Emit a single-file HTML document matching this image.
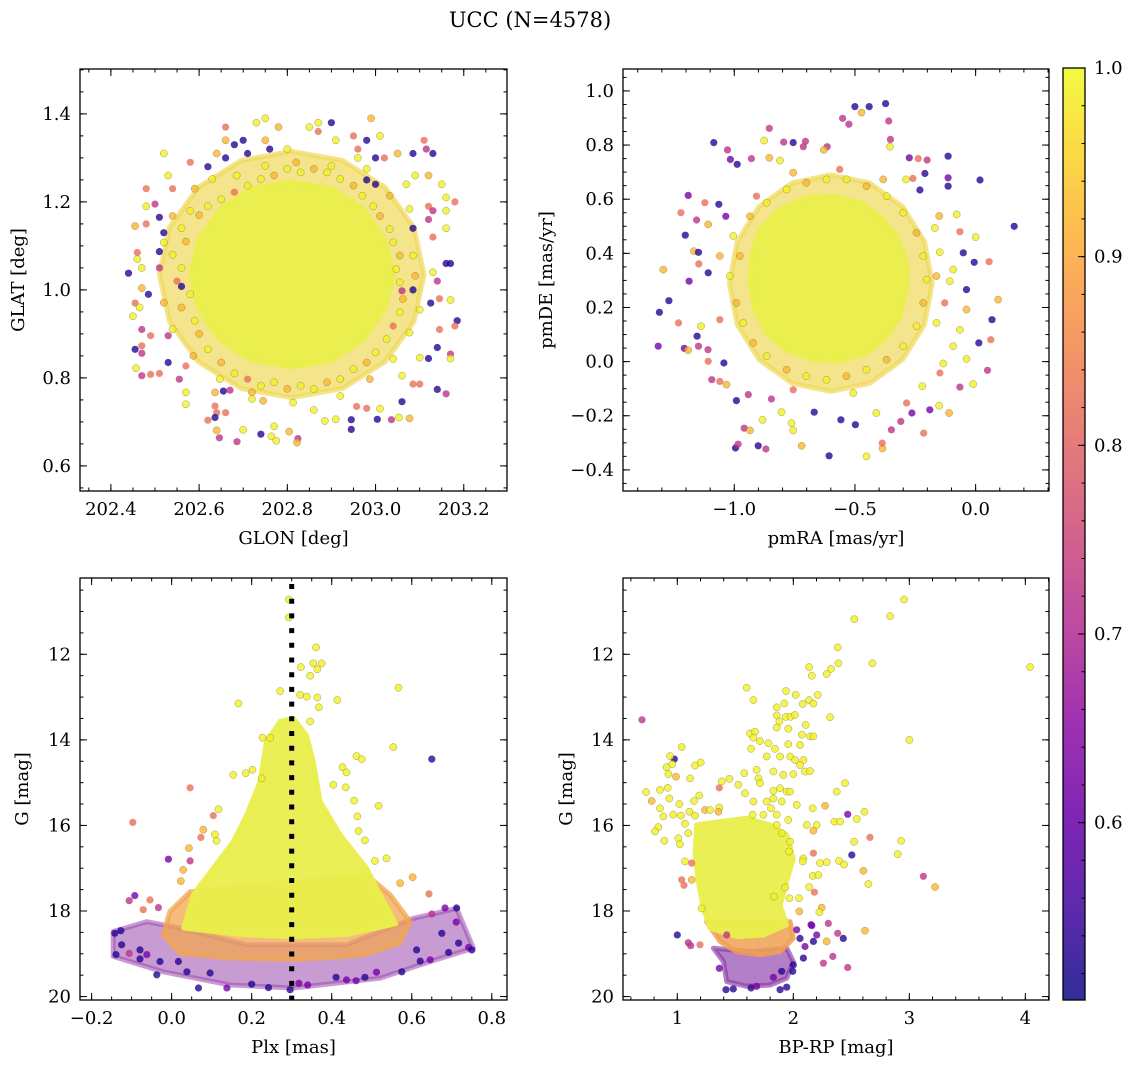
<!DOCTYPE html>
<html><head><meta charset="utf-8"><style>
html,body{margin:0;padding:0;background:#fff;}
svg{display:block;font-family:"DejaVu Serif","Liberation Serif",serif;}
</style></head><body>
<svg id="fig" width="1136" height="1068" viewBox="0 0 1136 1068" xmlns="http://www.w3.org/2000/svg">
<rect width="1136" height="1068" fill="#fff"/>
<text x="530" y="27" font-size="21" text-anchor="middle">UCC (N=4578)</text>
</svg>
<script>
// ---------- Panel 1: GLON / GLAT ----------
const p1x=[202.75,202.73,202.66,202.99,202.87,202.90,202.78,202.85,202.87,202.95,203.01,203.11,202.70,202.66,202.75,202.68,202.76,202.80,202.98,202.96,202.91,202.52,203.085,203.115,203.13,203.05,203.02,203.00,202.96,202.71,202.66,202.64,202.58,202.62,202.53,202.48,202.54,203.15,203.12,203.09,203.07,203.0,202.98,203.16,203.18,202.50,202.48,202.51,202.52,203.16,203.12,203.13,203.12,203.16,202.455,202.48,203.085,203.13,202.46,202.51,202.46,202.47,202.44,203.13,203.16,203.17,203.14,202.51,202.47,202.485,202.56,203.06,203.085,203.17,203.125,203.145,202.455,202.465,203.10,203.185,203.18,203.145,202.45,202.47,202.49,202.53,202.47,202.455,203.14,203.17,203.17,203.12,203.10,202.47,202.457,202.47,202.49,202.51,202.53,202.57,202.555,202.57,202.57,203.14,203.16,203.085,203.10,203.06,202.636,202.655,202.67,202.72,202.745,202.636,202.64,202.66,202.62,202.636,202.64,202.646,202.686,202.70,202.74,202.764,202.77,202.804,202.824,202.822,202.86,202.885,202.91,202.945,202.945,202.957,202.98,203.01,203.004,203.036,203.053,203.077,203.06,202.775,
202.58,202.60,202.56,202.57,202.54,202.56,202.55,202.58,202.56,202.59,202.60,202.62,202.65,202.68,202.71,202.74,202.77,202.80,202.83,202.86,202.89,202.92,202.95,202.98,203.0,203.025,203.04,203.055,203.062,203.055,203.047,203.055,203.04,203.032,203.01,202.995,202.97,202.95,202.92,202.89,202.86,202.83,202.80,202.77,202.74,202.71,202.68,202.65,202.62,202.59,202.63,202.685,202.75,202.82,202.90,202.98,203.032,203.077,203.085,203.09,203.077,203.04,202.987,202.92,202.813,202.72,202.647,202.587,202.54,202.52,202.52,202.54];
const p1y=[1.39,1.38,1.37,1.39,1.38,1.38,1.37,1.37,1.36,1.35,1.35,1.34,1.34,1.34,1.34,1.33,1.32,1.32,1.34,1.32,1.34,1.31,1.31,1.32,1.31,1.31,1.30,1.30,1.30,1.31,1.30,1.31,1.29,1.28,1.26,1.23,1.23,1.24,1.26,1.26,1.24,1.24,1.25,1.21,1.20,1.195,1.19,1.165,1.13,1.18,1.19,1.18,1.16,1.14,1.145,1.15,1.14,1.12,1.085,1.087,1.07,1.05,1.038,1.04,1.06,1.06,1.02,1.05,1.004,0.99,1.008,0.998,1.0,0.977,0.97,0.98,0.97,0.96,0.955,0.93,0.918,0.91,0.94,0.91,0.896,0.896,0.873,0.865,0.869,0.854,0.844,0.844,0.846,0.856,0.822,0.805,0.808,0.81,0.835,0.827,0.797,0.767,0.74,0.774,0.764,0.786,0.786,0.805,0.767,0.77,0.772,0.752,0.748,0.736,0.721,0.721,0.704,0.71,0.681,0.664,0.655,0.682,0.672,0.667,0.69,0.678,0.662,0.653,0.727,0.702,0.706,0.683,0.705,0.735,0.731,0.73,0.706,0.705,0.71,0.708,0.746,0.657,
1.18,1.17,1.14,1.11,1.08,1.05,1.02,0.99,0.96,0.93,0.90,0.865,0.835,0.81,0.797,0.782,0.79,0.775,0.782,0.775,0.79,0.797,0.82,0.835,0.858,0.888,0.918,0.949,0.979,1.017,1.047,1.078,1.108,1.138,1.168,1.19,1.214,1.237,1.252,1.267,1.275,1.267,1.275,1.26,1.252,1.237,1.222,1.206,1.19,1.23,1.252,1.26,1.282,1.29,1.282,1.275,1.214,1.184,1.078,1.032,0.903,0.843,0.797,0.759,0.744,0.767,0.797,0.85,0.911,0.971,1.108,1.168];
const p1p=[.99,.99,.82,.92,.99,.53,.92,.99,.82,.82,.99,.82,.53,.92,.92,.53,.53,.99,.53,.82,.99,.99,.53,.72,.53,.92,.82,.53,.99,.53,.53,.92,.82,.53,.99,.82,.82,.99,.92,.99,.99,.53,.53,.99,.82,.72,.99,.53,.53,.99,.82,.72,.72,.99,.92,.82,.53,.82,.82,.53,.99,.99,.53,.99,.53,.53,.72,.72,.92,.53,.53,.72,.53,.99,.53,.82,.82,.99,.99,.53,.82,.82,.99,.72,.82,.72,.82,.53,.53,.72,.99,.53,.99,.72,.99,.72,.82,.82,.53,.82,.72,.99,.99,.53,.72,.82,.82,.99,.92,.53,.72,.99,.92,.82,.82,.82,.82,.53,.92,.72,.72,.99,.53,.99,.99,.92,.72,.92,.99,.99,.99,.53,.53,.82,.82,.99,.53,.72,.99,.92,.53,.99,
.99,.92,.99,.92,.99,.99,.82,.99,.92,.99,.92,.99,.92,.99,.82,.99,.99,.92,.99,.99,.92,.99,.99,.92,.99,.99,.82,.99,.92,.99,.99,.92,.99,.99,.92,.99,.99,.92,.99,.99,.92,.99,.99,.92,.99,.99,.82,.99,.99,.92,.99,.99,.99,.92,.99,.99,.92,.99,.99,.92,.99,.99,.92,.99,.99,.92,.99,.92,.99,.92,.99,.92];
const p1CoreX=[203.04,203.02,202.97,202.90,202.81,202.72,202.65,202.60,202.58,202.60,202.65,202.72,202.81,202.90,202.97,203.02];
const p1CoreY=[1.035,1.115,1.185,1.23,1.245,1.23,1.185,1.115,1.035,0.955,0.885,0.84,0.825,0.84,0.885,0.955];
const p1HaloX=[203.11,203.087,203.022,202.925,202.81,202.695,202.598,202.533,202.51,202.533,202.598,202.695,202.81,202.925,203.022,203.087];
const p1HaloY=[1.035,1.142,1.233,1.294,1.315,1.294,1.233,1.142,1.035,0.928,0.837,0.776,0.755,0.776,0.837,0.928];
const p1XTicks=[202.4,202.6,202.8,203.0,203.2];
const p1YTicks=[0.6,0.8,1.0,1.2,1.4];

// ---------- Panel 2: pmRA / pmDE ----------
const p2x=[-0.500,-0.441,-0.373,-0.473,-0.551,-0.525,-0.360,-0.855,-1.085,-0.876,-0.795,-0.756,-0.705,-0.615,-0.629,-0.714,-0.353,-0.355,-1.028,-1.016,-0.929,-0.988,-0.855,-0.811,-0.275,-0.238,-0.201,-0.114,0.018,-0.114,-0.114,-0.210,-0.260,-0.289,-0.231,-1.191,-1.221,-1.122,-1.064,-1.035,-1.156,-1.108,-1.203,-1.167,-1.148,-1.294,-1.147,-1.187,-1.108,-1.271,-1.310,-1.231,-1.138,-1.315,-1.207,-1.191,-1.148,-1.109,-1.154,-1.108,-1.043,-1.093,-1.060,-1.032,-0.991,-0.942,-0.995,-0.984,-0.901,-0.869,-0.959,-0.935,-0.883,-0.846,-0.804,-0.763,-0.756,-0.721,-0.669,-0.607,-0.452,-0.386,-0.387,-0.558,-0.498,-0.411,-0.349,-0.310,-0.286,-0.215,-0.264,-0.190,-0.151,-0.110,-0.065,-0.010,0.049,0.063,-0.038,-0.093,0.013,0.093,0.056,0.068,0.160,0.000,-0.079,-0.065,-0.151,-0.169,-0.149,-0.051,-0.006,-0.093,-0.038,-0.107,-0.128,-0.038,-0.065,-0.134,-0.148,-0.221,
-1.004,-0.977,-1.018,-0.991,-0.963,-0.922,-0.866,-0.783,-0.701,-0.618,-0.535,-0.452,-0.369,-0.300,-0.245,-0.217,-0.203,-0.217,-0.245,-0.300,-0.369,-0.452,-0.535,-0.618,-0.701,-0.783,-0.866,-0.935,-0.908,-0.756,-0.563,-0.383,-0.162,-0.162,-0.507,-0.756,-1.060,-1.060];
const p2y=[0.942,0.942,0.953,0.920,0.899,0.877,0.889,0.862,0.809,0.817,0.811,0.809,0.814,0.794,0.782,0.794,0.821,0.794,0.782,0.747,0.750,0.729,0.753,0.743,0.753,0.750,0.745,0.759,0.671,0.679,0.648,0.695,0.677,0.673,0.634,0.614,0.550,0.587,0.581,0.537,0.523,0.507,0.467,0.408,0.404,0.340,0.361,0.297,0.328,0.225,0.182,0.143,0.131,0.057,0.049,0.042,0.057,0.044,0.094,0.001,-0.005,-0.067,-0.073,-0.085,-0.144,-0.122,-0.319,-0.305,-0.311,-0.323,-0.246,-0.254,-0.215,-0.138,-0.187,-0.227,-0.254,-0.311,-0.187,-0.348,-0.350,-0.321,-0.301,-0.215,-0.233,-0.190,-0.252,-0.221,-0.153,-0.264,-0.190,-0.178,-0.163,-0.190,-0.094,-0.083,-0.032,0.081,0.010,0.057,0.069,0.229,0.369,0.155,0.500,0.460,0.544,0.480,0.538,0.494,0.404,0.402,0.367,0.340,0.266,0.297,0.217,0.192,0.118,-0.007,-0.042,-0.091,
0.464,0.390,0.316,0.217,0.143,0.069,0.020,-0.030,-0.054,-0.067,-0.054,-0.030,0.007,0.057,0.131,0.217,0.303,0.390,0.476,0.550,0.611,0.648,0.673,0.673,0.661,0.636,0.587,0.537,0.611,0.698,0.710,0.673,0.316,0.143,-0.116,-0.104,0.155,0.390];
const p2p=[.53,.53,.53,.92,.72,.72,.72,.72,.53,.99,.72,.53,.72,.72,.92,.72,.72,.99,.72,.62,.72,.53,.92,.99,.62,.82,.72,.53,.53,.62,.53,.53,.82,.99,.53,.62,.82,.82,.53,.62,.72,.92,.53,.92,.53,.92,.82,.62,.53,.53,.53,.82,.99,.62,.62,.92,.72,.72,.53,.82,.53,.72,.82,.92,.53,.72,.53,.72,.53,.72,.72,.92,.99,.72,.99,.99,.99,.92,.53,.53,.99,.92,.82,.53,.53,.99,.72,.72,.82,.82,.62,.62,.99,.92,.72,.99,.72,.82,.99,.99,.53,.92,.82,.53,.53,.99,.99,.82,.92,.99,.99,.53,.53,.99,.53,.99,.82,.92,.99,.99,.82,.99,
.99,.92,.99,.92,.99,.92,.99,.92,.99,.99,.92,.99,.92,.99,.99,.92,.99,.99,.92,.99,.99,.92,.99,.99,.92,.99,.99,.92,.82,.92,.82,.92,.92,.99,.99,.82,.82,.92];
const p2CoreX=[-0.894,-0.811,-0.701,-0.590,-0.480,-0.397,-0.328,-0.286,-0.286,-0.314,-0.369,-0.452,-0.563,-0.673,-0.783,-0.866,-0.915,-0.935,-0.928];
const p2CoreY=[0.488,0.562,0.605,0.611,0.587,0.537,0.464,0.365,0.266,0.168,0.094,0.032,0.001,0.007,0.044,0.106,0.192,0.291,0.390];
const p2HaloX=[-0.18,-0.212,-0.303,-0.439,-0.60,-0.761,-0.897,-0.988,-1.02,-0.988,-0.897,-0.761,-0.60,-0.439,-0.303,-0.212];
const p2HaloY=[0.29,0.443,0.573,0.66,0.69,0.66,0.573,0.443,0.29,0.137,0.007,-0.08,-0.11,-0.08,0.007,0.137];
const p2XTicks=[-1.0,-0.5,0.0];
const p2YTicks=[-0.4,-0.2,0.0,0.2,0.4,0.6,0.8,1.0];

// ---------- Panel 3: Plx / G ----------
const p3x=[0.293,0.293,0.361,0.323,0.354,0.375,0.364,0.346,0.567,0.271,0.321,0.338,0.364,0.414,0.167,0.368,0.346,0.554,0.650,0.462,0.475,0.227,0.246,0.154,0.185,0.202,0.225,0.427,0.437,0.404,0.435,0.456,0.517,0.464,0.467,0.483,0.046,-0.097,0.104,0.117,0.079,0.073,0.108,0.112,-0.008,0.043,0.029,0.023,-0.092,-0.106,-0.054,-0.033,-0.071,0.046,0.537,0.508,0.602,0.571,0.643,0.683,0.712,0.650,-0.142,-0.127,-0.125,-0.139,-0.106,-0.079,-0.037,0.067,0.138,0.200,0.242,0.296,0.318,0.340,0.411,0.437,0.461,0.483,0.512,0.575,0.621,0.646,0.692,0.717,0.742,0.750,0.675,0.711,0.612,0.017,0.096,0.038,-0.079,-0.062,-0.029];
const p3y=[10.72,11.14,11.84,12.30,12.21,12.21,12.35,12.50,12.78,12.86,12.95,12.99,13.01,13.07,13.15,13.24,13.57,14.17,14.45,14.38,14.45,13.95,13.95,14.82,14.78,14.70,14.90,14.64,14.76,15.05,15.11,15.42,15.54,15.79,16.13,16.35,15.12,15.93,15.77,15.62,16.10,16.28,16.21,16.36,16.79,16.53,17.04,17.30,17.64,17.76,17.74,17.92,17.97,16.83,16.77,16.83,17.21,17.35,17.60,17.93,17.93,18.07,18.52,18.46,18.79,19.02,18.99,19.12,19.49,19.80,19.80,19.71,19.79,19.84,19.69,19.73,19.55,19.61,19.63,19.55,19.43,19.42,19.17,19.14,18.97,18.75,18.85,18.91,18.52,18.26,18.91,19.18,19.45,19.42,18.91,19.02,19.18];
const p3p=[.99,.99,.99,.99,.99,.99,.99,.99,.99,.99,.99,.99,.99,.99,.99,.99,.99,.99,.53,.99,.99,.99,.99,.99,.99,.99,.99,.99,.99,.99,.99,.99,.99,.99,.99,.99,.82,.82,.82,.99,.92,.82,.99,.99,.62,.92,.92,.92,.62,.72,.82,.72,.82,.72,.99,.99,.92,.92,.82,.62,.53,.72,.53,.53,.53,.53,.72,.53,.53,.53,.62,.53,.53,.53,.62,.62,.53,.62,.62,.53,.62,.53,.53,.62,.53,.53,.62,.53,.53,.62,.53,.53,.53,.53,.53,.62,.53];
const p3CoreX=[0.237,0.271,0.304,0.337,0.354,0.371,0.421,0.487,0.521,0.560,0.437,0.304,0.171,0.030,0.054,0.104,0.154,0.188,0.221];
const p3CoreY=[14.04,13.57,13.50,13.89,14.51,15.44,16.22,17.0,17.62,18.30,18.55,18.60,18.55,18.40,17.62,17.0,16.38,15.75,14.98];
const p3MidX=[0.046,-0.004,-0.021,0.021,0.146,0.304,0.479,0.571,0.596,0.546,0.487];
const p3MidY=[17.55,18.01,18.56,18.99,19.10,19.14,19.03,18.75,18.25,17.62,17.16];
const p3FaintX=[-0.146,-0.062,0.021,0.188,0.437,0.604,0.712,0.754,0.646,0.521,0.304,0.146,-0.021,-0.146];
const p3FaintY=[18.48,18.25,18.40,18.79,18.79,18.17,17.94,18.87,19.18,19.57,19.80,19.73,19.42,19.06];
const plxLine=[0.3];
const p3XTicks=[-0.2,0.0,0.2,0.4,0.6,0.8];
const gTicks=[12,14,16,18,20];

// ---------- Panel 4: BP-RP / G ----------
const p4x=[2.955,2.526,2.834,2.383,2.389,2.682,2.136,2.159,2.288,2.325,4.041,1.598,1.656,1.937,2.021,2.210,1.857,1.923,2.081,2.136,2.173,1.857,1.934,1.977,2.015,2.107,2.317,1.880,1.857,1.957,1.627,1.670,1.656,2.073,2.144,2.173,3.001,1.713,1.785,1.842,1.957,2.058,1.636,1.771,1.886,1.972,2.015,2.087,2.058,2.101,2.144,2.000,1.914,1.684,1.828,1.699,1.713,1.578,1.449,1.383,1.526,2.446,2.374,1.828,1.886,1.943,1.972,1.828,1.900,2.029,1.808,1.771,1.584,1.656,1.650,1.742,1.857,1.957,1.857,1.900,1.972,1.963,2.116,2.202,2.167,2.274,2.354,2.403,2.469,2.547,2.613,2.173,2.524,2.661,2.929,2.900,2.504,2.173,2.087,2.081,2.230,2.288,2.394,2.437,2.604,3.121,3.222,2.647,2.167,2.216,2.136,2.182,2.049,1.966,2.052,2.245,2.225,1.929,1.834,2.618,2.153,2.302,2.383,2.431,2.288,2.340,2.259,2.469,2.202,2.029,1.000,1.095,1.115,1.196,0.696,0.974,0.937,1.038,0.908,0.957,1.153,1.202,0.923,0.989,1.110,0.730,0.851,0.917,1.362,0.779,0.931,1.018,1.190,1.144,0.851,0.880,0.966,1.032,1.104,1.239,1.282,1.362,1.354,1.153,1.066,0.836,0.808,0.888,1.009,1.095,1.023,1.066,1.038,1.058,1.124,1.124,1.210,1.426,1.362,1.420,1.483,1.636,1.684,1.886,1.943,1.828,1.900,2.000,2.087,2.101,2.173,2.058,2.159,1.995];
const p4y=[10.72,11.18,11.11,11.84,12.21,12.21,12.30,12.50,12.46,12.34,12.30,12.78,13.07,12.86,12.95,12.95,13.24,13.15,13.16,13.07,13.15,13.43,13.46,13.46,13.42,13.65,13.47,13.57,13.71,13.74,13.85,13.81,13.95,13.88,13.92,13.92,14.00,14.03,14.08,14.21,14.10,14.12,14.21,14.39,14.39,14.39,14.47,14.47,14.59,14.74,14.73,14.80,14.82,14.70,14.74,14.90,15.01,14.78,14.91,14.97,15.05,15.01,15.21,15.19,15.13,15.21,15.21,15.37,15.44,15.52,15.60,15.44,15.25,15.44,15.75,15.75,15.75,15.87,15.99,16.18,16.38,16.61,15.99,15.99,15.60,15.54,15.91,15.91,15.74,15.85,15.68,16.12,16.38,16.28,16.36,16.67,16.69,16.65,16.77,16.84,16.88,16.86,16.83,16.91,17.06,17.19,17.44,17.37,17.18,17.16,17.44,17.56,17.70,17.70,18.01,17.92,18.03,17.45,17.66,18.46,18.32,18.29,18.52,18.64,18.71,19.06,19.22,19.32,18.56,18.44,18.56,18.74,18.81,18.79,13.53,14.45,14.38,14.17,14.64,14.57,14.60,14.53,14.80,14.86,14.90,15.22,15.17,15.12,15.12,15.43,15.37,15.50,15.30,15.43,15.60,15.79,15.75,15.77,15.68,15.64,15.64,15.58,15.68,15.77,15.96,16.04,16.14,16.36,16.30,16.18,16.44,16.84,17.27,17.40,17.27,16.88,17.94,18.56,19.34,19.84,19.82,19.80,19.76,19.84,19.78,19.55,19.41,19.26,19.10,18.83,18.71,18.64,18.34,19.41];
const p4p=[.99,.99,.99,.99,.99,.99,.99,.99,.99,.99,.99,.99,.99,.99,.99,.99,.99,.99,.99,.99,.99,.99,.99,.99,.99,.99,.99,.99,.99,.99,.99,.99,.99,.99,.99,.99,.99,.99,.99,.99,.99,.99,.99,.99,.99,.99,.99,.99,.99,.99,.99,.99,.99,.99,.99,.99,.99,.99,.99,.99,.99,.99,.99,.99,.99,.99,.99,.99,.99,.99,.99,.99,.99,.99,.99,.99,.99,.99,.99,.99,.99,.99,.99,.99,.99,.92,.99,.99,.62,.99,.99,.92,.99,.82,.99,.99,.53,.82,.99,.99,.99,.99,.99,.99,.92,.72,.92,.99,.99,.99,.99,.82,.99,.99,.92,.92,.99,.99,.99,.92,.62,.72,.72,.53,.92,.72,.72,.72,.62,.62,.53,.72,.72,.82,.72,.53,.99,.99,.99,.99,.99,.99,.99,.92,.99,.99,.99,.99,.82,.92,.99,.99,.99,.99,.99,.99,.99,.99,.99,.92,.99,.99,.92,.99,.99,.99,.99,.99,.99,.99,.99,.99,.82,.82,.92,.82,.99,.72,.62,.53,.53,.53,.62,.53,.53,.62,.53,.53,.53,.62,.53,.53,.62,.53,.62];
const p4CoreX=[1.167,1.368,1.598,1.799,1.943,2.000,1.943,1.886,1.943,1.742,1.512,1.282,1.225,1.181,1.153];
const p4CoreY=[15.99,15.91,15.83,15.99,16.22,16.77,17.31,17.86,18.32,18.56,18.60,18.40,17.94,17.31,16.69];
const p4MidX=[1.253,1.368,1.512,1.713,1.886,2.000,1.972];
const p4MidY=[18.25,18.71,18.95,19.02,18.95,18.64,18.25];
const p4FaintX=[1.311,1.397,1.426,1.598,1.799,1.943,2.000,1.943,1.656];
const p4FaintY=[18.87,19.18,19.65,19.76,19.73,19.57,19.18,18.87,18.95];
const p4XTicks=[1,2,3,4];

// ---------- Colorbar ----------
const cbTicks=[0.6,0.7,0.8,0.9,1.0];
const cbRange=[0.506,1.0];

const NS='http://www.w3.org/2000/svg';
const svg=document.getElementById('fig');
function mk(tag,attrs,parent){const e=document.createElementNS(NS,tag);for(const k in attrs)e.setAttribute(k,attrs[k]);(parent||svg).appendChild(e);return e;}
const stops=[[13,8,135],[65,4,157],[106,0,168],[143,13,164],[177,42,144],[204,71,120],[225,100,98],[242,132,75],[252,166,54],[252,206,37],[240,249,33]];
function plasma(t){t=Math.max(0,Math.min(1,t));const f=t*10,i=Math.min(9,Math.floor(f)),r=f-i;const a=stops[i],b=stops[i+1];return 'rgb('+a.map((v,k)=>Math.round(v+(b[k]-v)*r)).join(',')+')';}
function pcol(p){return plasma((p-cbRange[0])/(cbRange[1]-cbRange[0]));}
function fmt(v,d){const s=Math.abs(v).toFixed(d);return (v<-1e-9?'\u2212':'')+s;}

function panel(cfg){
  const P=cfg;
  const sx=v=>P.x0+(v-P.xd[0])/(P.xd[1]-P.xd[0])*(P.x1-P.x0);
  const sy=v=>P.y1-(v-P.yd[0])/(P.yd[1]-P.yd[0])*(P.y1-P.y0);
  const g=mk('g',{});
  
  
  const clipId='clip-'+P.name;
  const cp=mk('clipPath',{id:clipId},g);mk('rect',{x:P.x0,y:P.y0,width:P.x1-P.x0,height:P.y1-P.y0},cp);
  const plot=mk('g',{'clip-path':'url(#'+clipId+')'},g);
  
  
  (P.regions||[]).forEach(R=>{
    const pts=R.xs.map((v,i)=>sx(v).toFixed(1)+','+sy(R.ys[i]).toFixed(1)).join(' ');
    const pg=mk('polygon',{points:pts,fill:R.fill,'fill-opacity':R.op,stroke:R.fill,'stroke-width':5,'stroke-opacity':R.op,'stroke-linejoin':'round'},plot);
    
    
  });
  P.xs.forEach((v,i)=>{
    const p=P.ps[i];
    const c=mk('circle',{cx:sx(v).toFixed(1),cy:sy(P.ys[i]).toFixed(1),r:3.6,fill:pcol(p),'fill-opacity':0.8},plot);
    if(p>0.88){c.setAttribute('stroke','#7a7a3a');c.setAttribute('stroke-width','0.5');c.setAttribute('stroke-opacity','0.7');}
    
    
  });
  if(P.vline){P.vline.forEach(v=>{const l=mk('line',{x1:sx(v),x2:sx(v),y1:P.y0+6,y2:P.y1,stroke:'#000','stroke-width':5,'stroke-dasharray':'5 9.7'},plot);
    
    });}
  const fr=mk('rect',{x:P.x0,y:P.y0,width:P.x1-P.x0,height:P.y1-P.y0,fill:'none',stroke:'#000','stroke-width':1.3},g);
  
  
  const tg=mk('g',{stroke:'#000','stroke-width':1},g);
  const minorX=[],minorY=[];
  for(let k=Math.ceil(P.xd[0]/P.xmin-1e-6);k*P.xmin<=P.xd[1];k++)minorX.push(k*P.xmin);
  const ylo=Math.min(P.yd[0],P.yd[1]),yhi=Math.max(P.yd[0],P.yd[1]);
  for(let k=Math.ceil(ylo/P.ymin-1e-6);k*P.ymin<=yhi;k++)minorY.push(k*P.ymin);
  minorX.forEach(v=>{const x=sx(v);mk('line',{x1:x,x2:x,y1:P.y1,y2:P.y1-3.5},tg);mk('line',{x1:x,x2:x,y1:P.y0,y2:P.y0+3.5},tg);});
  minorY.forEach(v=>{const y=sy(v);mk('line',{x1:P.x0,x2:P.x0+3.5,y1:y,y2:y},tg);mk('line',{x1:P.x1,x2:P.x1-3.5,y1:y,y2:y},tg);});
  P.xt.forEach(v=>{const x=sx(v);mk('line',{x1:x,x2:x,y1:P.y1,y2:P.y1-7},tg);mk('line',{x1:x,x2:x,y1:P.y0,y2:P.y0+7},tg);
    const t=mk('text',{x:x,y:P.y1+24,'font-size':18,'text-anchor':'middle'},g);t.textContent=fmt(v,P.xdec);
    
    });
  P.yt.forEach(v=>{const y=sy(v);mk('line',{x1:P.x0,x2:P.x0+7,y1:y,y2:y},tg);mk('line',{x1:P.x1,x2:P.x1-7,y1:y,y2:y},tg);
    const t=mk('text',{x:P.x0-9,y:y+6,'font-size':18,'text-anchor':'end'},g);t.textContent=fmt(v,P.ydec);
    
    });
  const xl=mk('text',{x:(P.x0+P.x1)/2,y:P.y1+53,'font-size':18,'text-anchor':'middle'},g);xl.textContent=P.xlabel;
  
  
  const yx=P.ylx,yy=(P.y0+P.y1)/2;
  const yl=mk('text',{x:yx,y:yy,'font-size':18,'text-anchor':'middle',transform:'rotate(-90 '+yx+' '+yy+')'},g);yl.textContent=P.ylabel;
  
  
}
const CORE='#e9ee4c';
const HALO='#efd95a';
panel({name:'glon-glat-panel',x0:80,x1:507,y0:69,y1:491,xd:[202.33,203.298],yd:[0.543,1.502],xt:p1XTicks,yt:p1YTicks,xmin:0.05,ymin:0.05,xdec:1,ydec:1,xlabel:'GLON [deg]',ylabel:'GLAT [deg]',ylx:24,
  xs:p1x,ys:p1y,ps:p1p,regions:[{name:'glon-glat-halo',xs:p1HaloX,ys:p1HaloY,fill:HALO,op:0.7},{name:'glon-glat-core',xs:p1CoreX,ys:p1CoreY,fill:CORE,op:0.95}]});
panel({name:'pm-panel',x0:623,x1:1049,y0:69,y1:491,xd:[-1.461,0.304],yd:[-0.478,1.081],xt:p2XTicks,yt:p2YTicks,xmin:0.1,ymin:0.05,xdec:1,ydec:1,xlabel:'pmRA [mas/yr]',ylabel:'pmDE [mas/yr]',ylx:552,
  xs:p2x,ys:p2y,ps:p2p,regions:[{name:'pm-halo',xs:p2HaloX,ys:p2HaloY,fill:HALO,op:0.7},{name:'pm-core',xs:p2CoreX,ys:p2CoreY,fill:CORE,op:0.95}]});
panel({name:'plx-g-panel',x0:80,x1:507,y0:578,y1:1000,xd:[-0.229,0.838],yd:[20.08,10.217],xt:p3XTicks,yt:gTicks,xmin:0.05,ymin:0.5,xdec:1,ydec:0,xlabel:'Plx [mas]',ylabel:'G [mag]',ylx:28,
  xs:p3x,ys:p3y,ps:p3p,vline:plxLine,regions:[
   {name:'plx-faint-band',xs:p3FaintX,ys:p3FaintY,fill:'#9a4aae',op:0.55},
   {name:'plx-mid-band',xs:p3MidX,ys:p3MidY,fill:'#f2a650',op:0.75},
   {name:'plx-core',xs:p3CoreX,ys:p3CoreY,fill:CORE,op:0.95}]});
panel({name:'cmd-panel',x0:623,x1:1049,y0:578,y1:1000,xd:[0.532,4.204],yd:[20.08,10.217],xt:p4XTicks,yt:gTicks,xmin:0.2,ymin:0.5,xdec:0,ydec:0,xlabel:'BP-RP [mag]',ylabel:'G [mag]',ylx:572,
  xs:p4x,ys:p4y,ps:p4p,regions:[
   {name:'cmd-faint-band',xs:p4FaintX,ys:p4FaintY,fill:'#8a3aa8',op:0.65},
   {name:'cmd-mid-band',xs:p4MidX,ys:p4MidY,fill:'#f0a052',op:0.85},
   {name:'cmd-core',xs:p4CoreX,ys:p4CoreY,fill:CORE,op:0.95}]});

(function(){
  const x0=1063,x1=1085,y0=68,y1=1000;
  const cb=mk('g',{});
  
  
  const defs=mk('defs',{},cb);const lg=mk('linearGradient',{id:'cbg',x1:0,y1:1,x2:0,y2:0},defs);
  for(let i=0;i<=20;i++){mk('stop',{offset:(i/20),'stop-color':plasma(i/20),'stop-opacity':0.85},lg);}
  mk('rect',{x:x0,y:y0,width:x1-x0,height:y1-y0,fill:'url(#cbg)'},cb);
  mk('rect',{x:x0,y:y0,width:x1-x0,height:y1-y0,fill:'none',stroke:'#000','stroke-width':1.3},cb);
  const sy=v=>y1-(v-cbRange[0])/(cbRange[1]-cbRange[0])*(y1-y0);
  for(let k=Math.ceil(cbRange[0]/0.02-1e-6);k*0.02<=cbRange[1]+1e-9;k++){const y=sy(k*0.02);mk('line',{x1:x1,x2:x1-3.5,y1:y,y2:y,stroke:'#000','stroke-width':1},cb);}
  cbTicks.forEach(v=>{const y=sy(v);mk('line',{x1:x1,x2:x1-7,y1:y,y2:y,stroke:'#000','stroke-width':1},cb);
    const t=mk('text',{x:x1+9,y:y+6,'font-size':18},cb);t.textContent=v.toFixed(1);
    
    });
})();
</script>
</body></html>
